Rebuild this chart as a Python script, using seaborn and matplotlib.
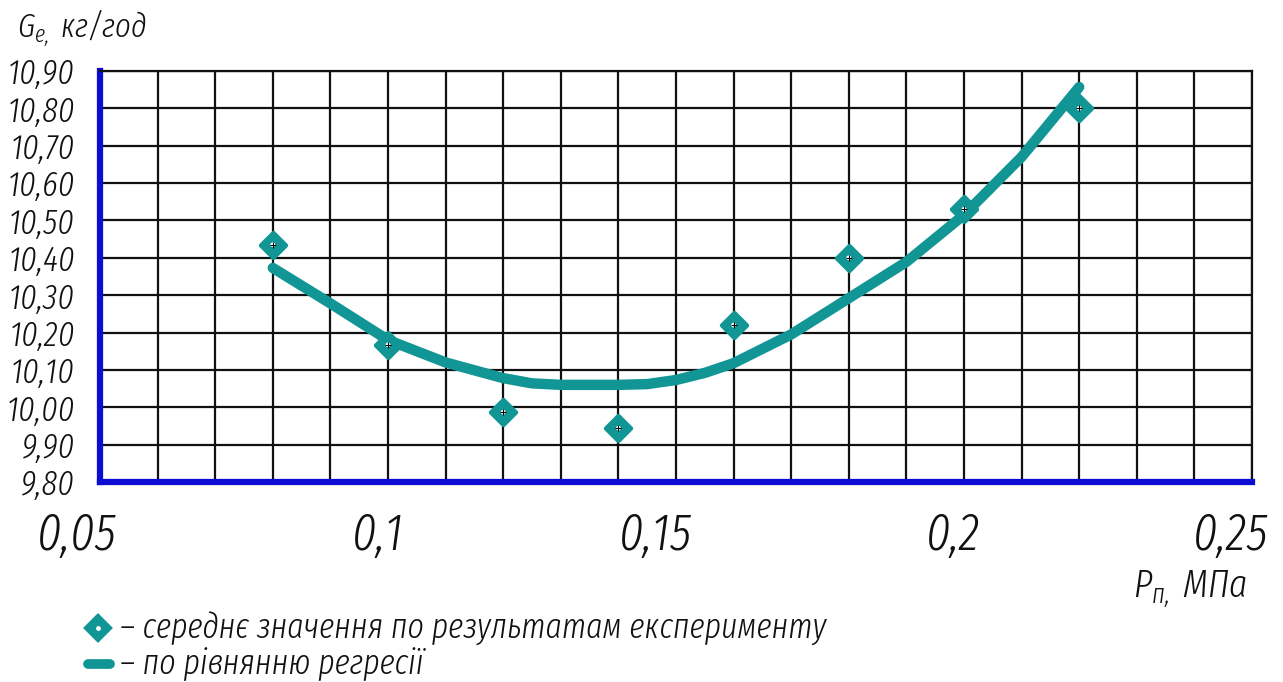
import numpy as np
import pandas as pd
import matplotlib
matplotlib.use("Agg")
import matplotlib.pyplot as plt
import seaborn as sns
from matplotlib import font_manager
from matplotlib.lines import Line2D
from matplotlib.transforms import ScaledTranslation

# ---------------- data ----------------
pressure_exp = [0.08, 0.10, 0.12, 0.14, 0.16, 0.18, 0.20, 0.22]
consumption_exp = [10.435, 10.167, 9.987, 9.944, 10.22, 10.40, 10.53, 10.80]

pressure_reg = [0.08, 0.09, 0.10, 0.11, 0.12, 0.125, 0.13, 0.14, 0.145, 0.15,
                0.155, 0.16, 0.17, 0.18, 0.19, 0.20, 0.21, 0.22]
consumption_reg = [10.373, 10.278, 10.18, 10.12, 10.078, 10.064, 10.060, 10.060,
                   10.062, 10.073, 10.092, 10.118, 10.195, 10.292, 10.389, 10.515,
                   10.67, 10.857]

x_tick_values = [0.05, 0.10, 0.15, 0.20, 0.25]
x_tick_labels = ["0,05", "0,1", "0,15", "0,2", "0,25"]
x_minor_values = [0.05, 0.06, 0.07, 0.08, 0.09, 0.10, 0.11, 0.12, 0.13, 0.14, 0.15,
                  0.16, 0.17, 0.18, 0.19, 0.20, 0.21, 0.22, 0.23, 0.24, 0.25]
y_tick_values = [9.80, 9.90, 10.00, 10.10, 10.20, 10.30, 10.40, 10.50, 10.60, 10.70, 10.80, 10.90]
y_tick_labels = ["9,80", "9,90", "10,00", "10,10", "10,20", "10,30", "10,40",
                 "10,50", "10,60", "10,70", "10,80", "10,90"]

y_title = r"$G_{e,}$ кг/год"
x_title = r"$P_{п,}$ МПа"
legend_exp = "– середнє значення по результатам експерименту"
legend_reg = "– по рівнянню регресії"

# ---------------- font choice ----------------
avail = {f.name for f in font_manager.fontManager.ttflist}
FONT = "DejaVu Sans"
for cand in ["Fira Sans Extra Condensed", "Sofia Sans Extra Condensed",
             "Roboto Condensed", "Fira Sans Condensed", "PT Sans Narrow",
             "Liberation Sans Narrow"]:
    if cand in avail:
        FONT = cand
        break

# ---------------- style ----------------
sns.set_theme(style="white")
plt.rcParams["font.family"] = [FONT, "DejaVu Sans"]
plt.rcParams["font.style"] = "italic"
plt.rcParams["font.weight"] = 300
plt.rcParams["mathtext.fontset"] = "custom"
for key in ["mathtext.it", "mathtext.rm", "mathtext.sf"]:
    plt.rcParams[key] = f"{FONT}:italic"

TEAL = "#119595"
BLUE = "#0c0cd2"
INK = "#111111"
W, H = 1283, 682

fig = plt.figure(figsize=(W / 100, H / 100), dpi=100)
ax = fig.add_axes([100 / W, 1 - 482 / H, 1152 / W, 411 / H])

df_exp = pd.DataFrame({"p": pressure_exp, "g": consumption_exp})
df_reg = pd.DataFrame({"p": pressure_reg, "g": consumption_reg})

sns.lineplot(data=df_reg, x="p", y="g", ax=ax, color=TEAL, linewidth=7.5,
             solid_capstyle="round", solid_joinstyle="round", zorder=3)
sns.scatterplot(data=df_exp, x="p", y="g", ax=ax, marker="D", s=165, color=TEAL,
                edgecolor=TEAL, linewidth=3, zorder=4)
ax.collections[-1].set_joinstyle("round")
sns.scatterplot(data=df_exp, x="p", y="g", ax=ax, marker="o", s=12, color="white",
                edgecolor="none", zorder=5)
sns.scatterplot(data=df_exp, x="p", y="g", ax=ax, marker="+", s=24, color="black",
                linewidth=0.8, zorder=6)

ax.set_xlim(0.05, 0.25)
ax.set_ylim(9.80, 10.90)
ax.set_xticks(x_tick_values)
ax.set_xticks(x_minor_values, minor=True)
ax.set_xticklabels(x_tick_labels, fontsize=37, ha="right")
ax.set_yticks(y_tick_values)
ax.set_yticklabels(y_tick_labels, fontsize=25)
ax.set_xlabel("")
ax.set_ylabel("")

ax.grid(True, which="both", color=INK, linewidth=1.6, zorder=1)
ax.set_axisbelow(True)
ax.tick_params(axis="both", which="both", direction="out", length=14, width=4,
               color=BLUE, labelcolor=INK)
ax.tick_params(axis="y", pad=4)
ax.tick_params(axis="x", which="major", pad=7)
for side in ["left", "bottom"]:
    ax.spines[side].set_color(BLUE)
    ax.spines[side].set_linewidth(4.5)
for side in ["top", "right"]:
    ax.spines[side].set_color(INK)
    ax.spines[side].set_linewidth(1.6)

for lab in ax.get_xticklabels():
    lab.set_transform(lab.get_transform() + ScaledTranslation(16 / 100, 0, fig.dpi_scale_trans))

# axis titles
fig.text(17 / W, 1 - 38 / H, y_title, fontsize=24, color=INK, ha="left", va="baseline")
fig.text(1247 / W, 1 - 598 / H, x_title, fontsize=28, color=INK, ha="right", va="baseline")

# legend (drawn below the plot)
fig.add_artist(Line2D([98 / W], [1 - 628 / H], marker="D", markersize=12,
                      color=TEAL, markeredgecolor=TEAL, markeredgewidth=3,
                      transform=fig.transFigure))
fig.add_artist(Line2D([98 / W], [1 - 628 / H], marker="o", markersize=3.5,
                      color="white", markeredgecolor="none", transform=fig.transFigure))
fig.text(120 / W, 1 - 628 / H, legend_exp, fontsize=25, color=INK,
         ha="left", va="center")
fig.add_artist(Line2D([88 / W, 110 / W], [1 - 664 / H, 1 - 664 / H], color=TEAL,
                      linewidth=7, solid_capstyle="round", transform=fig.transFigure))
fig.text(120 / W, 1 - 664 / H, legend_reg, fontsize=25, color=INK,
         ha="left", va="center")

fig.savefig("out.png", dpi=100, facecolor="white")
